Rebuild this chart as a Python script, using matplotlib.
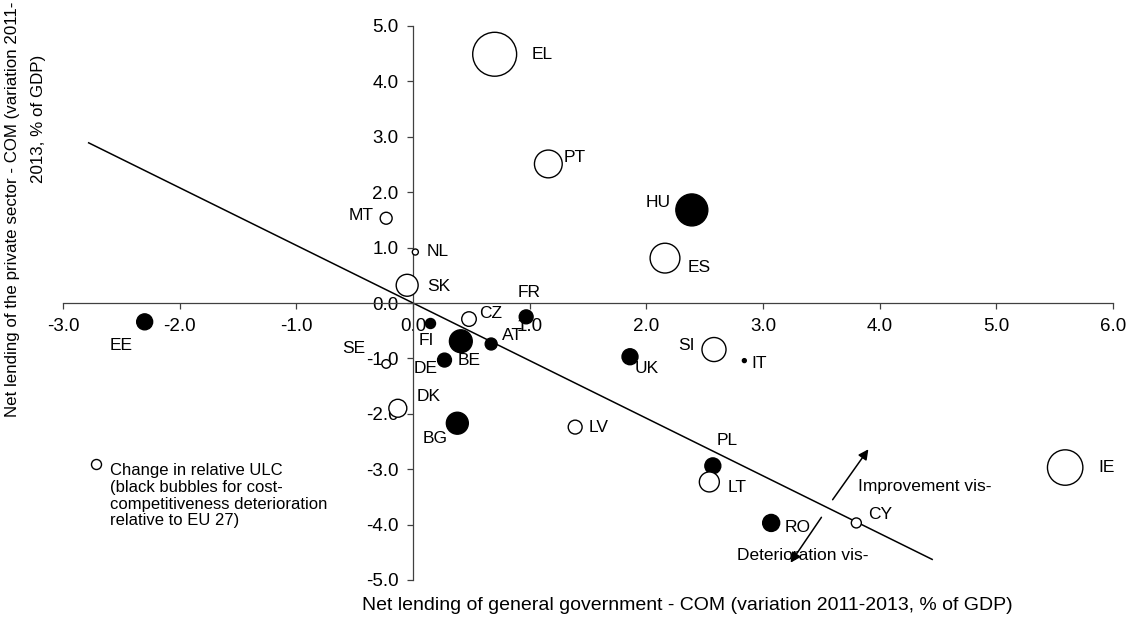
import matplotlib
matplotlib.use("Agg")
import matplotlib.pyplot as plt
import numpy as np

plt.rcParams['font.family'] = ['Liberation Sans', 'DejaVu Sans']

# ---- data ----
countries = ["EL", "PT", "HU", "ES", "MT", "NL", "SK", "EE", "FI", "CZ", "FR", "BE", "AT",
             "DE", "SE", "UK", "SI", "IT", "DK", "BG", "LV", "PL", "LT", "RO", "CY", "IE"]
gov_lending = [0.70, 1.16, 2.39, 2.16, -0.23, 0.02, -0.05, -2.30, 0.15, 0.48, 0.97, 0.41, 0.67,
               0.27, -0.23, 1.86, 2.58, 2.84, -0.13, 0.38, 1.39, 2.57, 2.54, 3.07, 3.80, 5.59]
priv_lending = [4.49, 2.51, 1.68, 0.81, 1.53, 0.92, 0.32, -0.34, -0.37, -0.29, -0.25, -0.69, -0.74,
                -1.03, -1.10, -0.97, -0.84, -1.04, -1.90, -2.17, -2.24, -2.94, -3.23, -3.97, -3.97, -2.97]
# change in relative ULC (positive = cost-competitiveness deterioration -> black bubble)
ulc_change = [-10.0, -4.0, 5.3, -4.6, -0.74, -0.19, -2.5, 1.32, 0.52, -1.1, 1.0, 2.7, 0.74,
              1.0, -0.38, 1.32, -3.0, 0.08, -1.67, 2.5, -1.0, 1.32, -2.07, 1.5, -0.52, -6.5]
legend_ulc = -0.52

trend_slope = -1.04
trend_intercept = 0.0
trend_x = [-2.78, 4.45]

x_ticks = [-3.0, -2.0, -1.0, 0.0, 1.0, 2.0, 3.0, 4.0, 5.0, 6.0]
y_ticks = [-5.0, -4.0, -3.0, -2.0, -1.0, 0.0, 1.0, 2.0, 3.0, 4.0, 5.0]

# label offsets in pixels (dx, dy, ha)
label_offsets = {
    "EL": (37, 0, "left"), "PT": (15, 6, "left"), "HU": (-21, 7, "right"),
    "ES": (23, -9, "left"), "MT": (-13, 3, "right"), "NL": (11, 1, "left"),
    "SK": (20, -1, "left"), "EE": (-24, -24, "center"), "FI": (-12, -17, "left"),
    "CZ": (10, 6, "left"), "FR": (3, 24, "center"), "BE": (-3, -19, "left"),
    "AT": (11, 8, "left"), "DE": (-7, -8, "right"), "SE": (-21, 15, "right"),
    "UK": (5, -12, "left"), "SI": (-19, 4, "right"), "IT": (7, -3, "left"),
    "DK": (19, 12, "left"), "BG": (-10, -15, "right"), "LV": (13, 0, "left"),
    "PL": (4, 25, "left"), "LT": (18, -6, "left"), "RO": (13, -5, "left"),
    "CY": (12, 8, "left"), "IE": (33, 0, "left"),
}

W, H = 1132, 617
fig = plt.figure(figsize=(W / 100, H / 100), dpi=100)
ax = fig.add_axes([63 / W, 37 / H, 1050 / W, 554 / H])
ax.set_xlim(-3, 6)
ax.set_ylim(-5, 5)

axis_color = "#404040"
for s in ["top", "right"]:
    ax.spines[s].set_visible(False)
ax.spines["left"].set_position(("data", 0))
ax.spines["bottom"].set_position(("data", 0))
for s in ["left", "bottom"]:
    ax.spines[s].set_color(axis_color)
    ax.spines[s].set_linewidth(0.9)

ax.set_xticks(x_ticks)
ax.set_yticks(y_ticks)
ax.set_xticklabels([f"{v:.1f}" for v in x_ticks])
ax.set_yticklabels([f"{v:.1f}" for v in y_ticks])
ax.tick_params(axis="both", direction="out", length=4.5, width=0.9, color=axis_color,
               labelsize=13.5, labelcolor="black")
ax.tick_params(axis="x", pad=6)
ax.tick_params(axis="y", pad=6)

# trend line
tx = np.array(trend_x)
ax.plot(tx, trend_slope * tx + trend_intercept, color="black", lw=1.1, zorder=2)

# bubbles
ulc = np.array(ulc_change)
sizes = 100 * np.abs(ulc)
faces = ["black" if u > 0 else "white" for u in ulc]
ax.scatter(gov_lending, priv_lending, s=sizes, c=faces, edgecolors="black",
           linewidths=1.0, zorder=3, clip_on=False)

for name, xv, yv in zip(countries, gov_lending, priv_lending):
    dx, dy, ha = label_offsets[name]
    ax.annotate(name, (xv, yv), xytext=(dx, dy), textcoords="offset pixels",
                ha=ha, va="center", fontsize=12.5, zorder=4)

# legend bubble and text
fig.add_artist(plt.Line2D([96 / W], [1 - 464 / H], marker="o",
                          markersize=np.sqrt(100 * abs(legend_ulc)),
                          markerfacecolor="white", markeredgecolor="black", markeredgewidth=1.0,
                          transform=fig.transFigure))
fig.text(110 / W, 1 - 463 / H,
         "Change in relative ULC\n(black bubbles for cost-\ncompetitiveness deterioration\nrelative to EU 27)",
         ha="left", va="top", fontsize=12, linespacing=1.15)

# arrows
ax.annotate("", xy=(870 / W, 1 - 447 / H), xytext=(831 / W, 1 - 502 / H),
            xycoords="figure fraction", textcoords="figure fraction",
            arrowprops=dict(arrowstyle="-|>", color="black", lw=1.1, mutation_scale=15))
ax.annotate("", xy=(789 / W, 1 - 565 / H), xytext=(823 / W, 1 - 515 / H),
            xycoords="figure fraction", textcoords="figure fraction",
            arrowprops=dict(arrowstyle="-|>", color="black", lw=1.1, mutation_scale=15))
fig.text(858 / W, 1 - 487 / H, "Improvement vis-", ha="left", va="center", fontsize=12.5)
fig.text(737 / W, 1 - 556 / H, "Deterioration vis-", ha="left", va="center", fontsize=12.5)

# axis titles
fig.text(687 / W, 1 - 606 / H,
         "Net lending of general government - COM (variation 2011-2013, % of GDP)",
         ha="center", va="center", fontsize=14)
fig.text(13 / W, 1 - 417 / H, "Net lending of the private sector - COM (variation 2011-",
         rotation=90, ha="center", va="bottom", fontsize=12.2)
fig.text(38 / W, 1 - 183 / H, "2013, % of GDP)",
         rotation=90, ha="center", va="bottom", fontsize=12.2)

fig.savefig("out.png", dpi=100)
